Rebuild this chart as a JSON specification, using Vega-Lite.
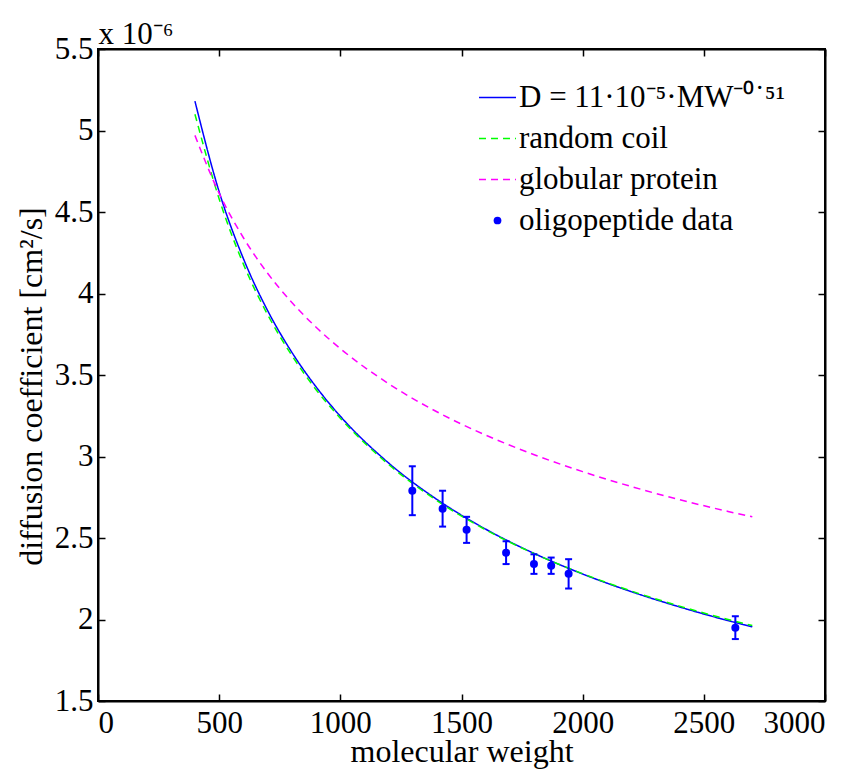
{
  "$schema": "https://vega.github.io/schema/vega-lite/v6.json",
  "width": 727,
  "height": 652,
  "autosize": {"type": "none"},
  "padding": {"left": 98, "top": 49, "right": 33, "bottom": 68},
  "background": "white",
  "config": {
    "view": {"stroke": "black", "strokeWidth": 2},
    "axis": {
      "grid": false,
      "domainColor": "black", "domainWidth": 2,
      "tickColor": "black", "tickSize": -7, "tickWidth": 1.5,
      "labelFont": "Liberation Serif", "labelFontSize": 31, "labelColor": "black",
      "titleFont": "Liberation Serif", "titleFontSize": 32, "titleFontWeight": "normal", "titleColor": "black"
    },
    "legend": {
      "orient": "none", "legendX": 384, "legendY": 33,
      "labelFont": "Liberation Serif", "labelFontSize": 31, "labelColor": "black", "labelLimit": 600,
      "symbolStrokeWidth": 1.5, "rowPadding": 9, "labelOffset": 6, "padding": 0
    }
  },
  "datasets": {
    "curves": [
      {"series": "\u00a0D = 11·10⁻⁵·MW⁻⁰˙⁵¹", "MW": 400, "D": 5.18},
      {"series": "\u00a0D = 11·10⁻⁵·MW⁻⁰˙⁵¹", "MW": 500, "D": 4.624},
      {"series": "\u00a0D = 11·10⁻⁵·MW⁻⁰˙⁵¹", "MW": 600, "D": 4.214},
      {"series": "\u00a0D = 11·10⁻⁵·MW⁻⁰˙⁵¹", "MW": 700, "D": 3.895},
      {"series": "\u00a0D = 11·10⁻⁵·MW⁻⁰˙⁵¹", "MW": 800, "D": 3.639},
      {"series": "\u00a0D = 11·10⁻⁵·MW⁻⁰˙⁵¹", "MW": 900, "D": 3.427},
      {"series": "\u00a0D = 11·10⁻⁵·MW⁻⁰˙⁵¹", "MW": 1000, "D": 3.247},
      {"series": "\u00a0D = 11·10⁻⁵·MW⁻⁰˙⁵¹", "MW": 1200, "D": 2.959},
      {"series": "\u00a0D = 11·10⁻⁵·MW⁻⁰˙⁵¹", "MW": 1400, "D": 2.735},
      {"series": "\u00a0D = 11·10⁻⁵·MW⁻⁰˙⁵¹", "MW": 1600, "D": 2.554},
      {"series": "\u00a0D = 11·10⁻⁵·MW⁻⁰˙⁵¹", "MW": 1800, "D": 2.405},
      {"series": "\u00a0D = 11·10⁻⁵·MW⁻⁰˙⁵¹", "MW": 2000, "D": 2.279},
      {"series": "\u00a0D = 11·10⁻⁵·MW⁻⁰˙⁵¹", "MW": 2200, "D": 2.171},
      {"series": "\u00a0D = 11·10⁻⁵·MW⁻⁰˙⁵¹", "MW": 2400, "D": 2.077},
      {"series": "\u00a0D = 11·10⁻⁵·MW⁻⁰˙⁵¹", "MW": 2600, "D": 1.993},
      {"series": "\u00a0D = 11·10⁻⁵·MW⁻⁰˙⁵¹", "MW": 2700, "D": 1.955},
      {"series": "random coil", "MW": 400, "D": 5.10},
      {"series": "random coil", "MW": 500, "D": 4.58},
      {"series": "random coil", "MW": 600, "D": 4.18},
      {"series": "random coil", "MW": 700, "D": 3.87},
      {"series": "random coil", "MW": 800, "D": 3.62},
      {"series": "random coil", "MW": 900, "D": 3.41},
      {"series": "random coil", "MW": 1000, "D": 3.235},
      {"series": "random coil", "MW": 1200, "D": 2.950},
      {"series": "random coil", "MW": 1400, "D": 2.728},
      {"series": "random coil", "MW": 1600, "D": 2.550},
      {"series": "random coil", "MW": 1800, "D": 2.404},
      {"series": "random coil", "MW": 2000, "D": 2.281},
      {"series": "random coil", "MW": 2200, "D": 2.175},
      {"series": "random coil", "MW": 2400, "D": 2.082},
      {"series": "random coil", "MW": 2600, "D": 2.000},
      {"series": "random coil", "MW": 2700, "D": 1.963},
      {"series": "globular protein", "MW": 400, "D": 4.970},
      {"series": "globular protein", "MW": 500, "D": 4.614},
      {"series": "globular protein", "MW": 600, "D": 4.342},
      {"series": "globular protein", "MW": 700, "D": 4.124},
      {"series": "globular protein", "MW": 800, "D": 3.945},
      {"series": "globular protein", "MW": 900, "D": 3.793},
      {"series": "globular protein", "MW": 1000, "D": 3.662},
      {"series": "globular protein", "MW": 1200, "D": 3.446},
      {"series": "globular protein", "MW": 1400, "D": 3.273},
      {"series": "globular protein", "MW": 1600, "D": 3.131},
      {"series": "globular protein", "MW": 1800, "D": 3.011},
      {"series": "globular protein", "MW": 2000, "D": 2.907},
      {"series": "globular protein", "MW": 2200, "D": 2.816},
      {"series": "globular protein", "MW": 2400, "D": 2.735},
      {"series": "globular protein", "MW": 2600, "D": 2.663},
      {"series": "globular protein", "MW": 2700, "D": 2.630}
    ],
    "obs": [
      {"MW": 1297, "D": 2.79, "lo": 2.64, "hi": 2.94},
      {"MW": 1422, "D": 2.68, "lo": 2.57, "hi": 2.79},
      {"MW": 1521, "D": 2.55, "lo": 2.47, "hi": 2.63},
      {"MW": 1684, "D": 2.41, "lo": 2.34, "hi": 2.48},
      {"MW": 1799, "D": 2.34, "lo": 2.28, "hi": 2.40},
      {"MW": 1870, "D": 2.33, "lo": 2.28, "hi": 2.38},
      {"MW": 1942, "D": 2.28, "lo": 2.19, "hi": 2.37},
      {"MW": 2630, "D": 1.95, "lo": 1.88, "hi": 2.02}
    ]
  },
  "layer": [
    {
      "data": {"name": "curves"},
      "mark": {"type": "line", "strokeWidth": 1.5, "interpolate": "monotone"},
      "encoding": {
        "x": {"field": "MW", "type": "quantitative", "scale": {"domain": [0, 3000], "nice": false},
              "axis": {"orient": "bottom", "title": "molecular weight", "values": [0, 500, 1000, 1500, 2000, 2500, 3000], "format": "d", "labelPadding": 14, "titlePadding": -2}},
        "y": {"field": "D", "type": "quantitative", "scale": {"domain": [1.5, 5.5], "nice": false, "zero": false},
              "axis": {"orient": "left", "title": "diffusion coefficient [cm²/s]", "values": [1.5, 2, 2.5, 3, 3.5, 4, 4.5, 5, 5.5], "format": "~g", "labelPadding": 12,
                       "titleX": -50, "titleY": 337, "titleAngle": -90, "titleAlign": "center", "titleBaseline": "bottom"}},
        "color": {"field": "series", "type": "nominal",
          "scale": {"domain": ["\u00a0D = 11·10⁻⁵·MW⁻⁰˙⁵¹", "random coil", "globular protein", "oligopeptide data"], "range": ["#0000ff", "#00ff00", "#ff00ff", "#0000ff"]},
          "legend": {
            "title": null,
            "encode": {"symbols": {"update": {
              "shape": {"signal": "datum.value === 'oligopeptide data' ? 'circle' : 'stroke'"},
              "size": {"signal": "datum.value === 'oligopeptide data' ? 60 : 1369"},
              "strokeDash": {"signal": "(datum.value === 'random coil' || datum.value === 'globular protein') ? [7,5] : [1,0]"},
              "fill": {"signal": "datum.value === 'oligopeptide data' ? '#0000ff' : 'transparent'"},
              "stroke": {"signal": "datum.value === 'random coil' ? '#00ff00' : (datum.value === 'globular protein' ? '#ff00ff' : '#0000ff')"},
              "strokeWidth": {"signal": "datum.value === 'oligopeptide data' ? 0 : 1.5"},
              "opacity": {"value": 1}
            }}}
          }},
        "strokeDash": {"field": "series", "type": "nominal",
          "scale": {"domain": ["\u00a0D = 11·10⁻⁵·MW⁻⁰˙⁵¹", "random coil", "globular protein"], "range": [[1, 0], [7, 5], [7, 5]]},
          "legend": null}
      }
    },
    {
      "data": {"name": "obs"},
      "mark": {"type": "rule", "strokeWidth": 2},
      "encoding": {
        "x": {"field": "MW", "type": "quantitative", "axis": null},
        "y": {"field": "lo", "type": "quantitative", "axis": null},
        "y2": {"field": "hi"},
        "color": {"datum": "oligopeptide data"}
      }
    },
    {
      "data": {"name": "obs"},
      "mark": {"type": "tick", "orient": "horizontal", "size": 7, "thickness": 2, "opacity": 1},
      "encoding": {
        "x": {"field": "MW", "type": "quantitative", "axis": null},
        "y": {"field": "lo", "type": "quantitative", "axis": null},
        "color": {"datum": "oligopeptide data"}
      }
    },
    {
      "data": {"name": "obs"},
      "mark": {"type": "tick", "orient": "horizontal", "size": 7, "thickness": 2, "opacity": 1},
      "encoding": {
        "x": {"field": "MW", "type": "quantitative", "axis": null},
        "y": {"field": "hi", "type": "quantitative", "axis": null},
        "color": {"datum": "oligopeptide data"}
      }
    },
    {
      "data": {"name": "obs"},
      "mark": {"type": "circle", "size": 64, "opacity": 1},
      "encoding": {
        "x": {"field": "MW", "type": "quantitative", "axis": null},
        "y": {"field": "D", "type": "quantitative", "axis": null},
        "color": {"datum": "oligopeptide data"}
      }
    },
    {
      "data": {"name": "obs"},
      "mark": {"type": "point", "opacity": 0},
      "encoding": {
        "x": {"field": "MW", "type": "quantitative",
              "axis": {"orient": "top", "title": "x 10⁻⁶", "labels": false, "values": [0, 500, 1000, 1500, 2000, 2500, 3000],
                       "titleX": 0, "titleY": -6, "titleAlign": "left", "titleBaseline": "alphabetic", "titleAngle": 0, "titleFontSize": 31}},
        "y": {"field": "D", "type": "quantitative",
              "axis": {"orient": "right", "title": null, "labels": false, "values": [1.5, 2, 2.5, 3, 3.5, 4, 4.5, 5, 5.5]}}
      }
    }
  ],
  "resolve": {"axis": {"x": "independent", "y": "independent"}}
}
